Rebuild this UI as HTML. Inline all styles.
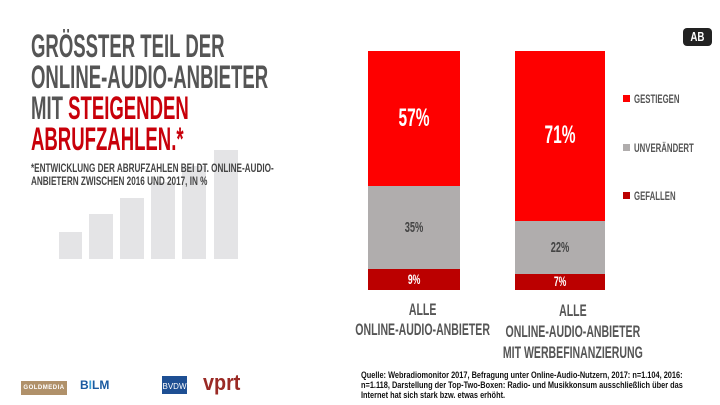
<!DOCTYPE html>
<html><head><meta charset="utf-8"><style>
body{margin:0;width:720px;height:405px;background:#fff;position:relative;overflow:hidden;font-family:"Liberation Sans",sans-serif}
.t{position:absolute;white-space:nowrap;font-weight:bold;transform-origin:0 0;color:#555}
.c{position:absolute;white-space:nowrap;font-weight:bold;color:#555;text-align:center}
.c span{display:inline-block;transform:scaleX(0.62)}
.b{position:absolute}
</style></head><body>
<div class="b" style="left:59px;top:232px;width:23px;height:27px;background:#e4e4e6"></div>
<div class="b" style="left:89px;top:214px;width:24px;height:45px;background:#e4e4e6"></div>
<div class="b" style="left:120px;top:198px;width:24px;height:61px;background:#e4e4e6"></div>
<div class="b" style="left:151px;top:182px;width:24px;height:77px;background:#e4e4e6"></div>
<div class="b" style="left:182px;top:166px;width:24px;height:93px;background:#e4e4e6"></div>
<div class="b" style="left:214px;top:150px;width:24px;height:109px;background:#e4e4e6"></div>

<div class="t" style="left:31px;top:30px;font-size:32px;line-height:32px;transform:scaleX(0.58)">GRÖSSTER TEIL DER</div>
<div class="t" style="left:31px;top:61px;font-size:32px;line-height:32px;transform:scaleX(0.58)">ONLINE-AUDIO-ANBIETER</div>
<div class="t" style="left:31px;top:92px;font-size:32px;line-height:32px;transform:scaleX(0.58)">MIT <span style="color:#c8000a">STEIGENDEN</span></div>
<div class="t" style="left:31px;top:123px;font-size:32px;line-height:32px;transform:scaleX(0.58);color:#c8000a">ABRUFZAHLEN.*</div>
<div class="t" style="left:31px;top:162px;font-size:12px;line-height:13px;transform:scaleX(0.68);color:#444">*ENTWICKLUNG DER ABRUFZAHLEN BEI DT. ONLINE-AUDIO-<br>ANBIETERN ZWISCHEN 2016 UND 2017, IN %</div>

<div class="b" style="left:683px;top:28px;width:29px;height:18px;background:#222;border-radius:4px;color:#fff;font-weight:bold;font-size:13px;line-height:18px;text-align:center"><span style="display:inline-block;transform:scaleX(0.75)">AB</span></div>

<div class="b" style="left:368px;top:51px;width:92px;height:135px;background:#fe0000"></div>
<div class="b" style="left:368px;top:186px;width:92px;height:83px;background:#b0adad"></div>
<div class="b" style="left:368px;top:269px;width:92px;height:21px;background:#bb0000"></div>
<div class="b" style="left:515px;top:51px;width:90px;height:170px;background:#fe0000"></div>
<div class="b" style="left:515px;top:221px;width:90px;height:53px;background:#b0adad"></div>
<div class="b" style="left:515px;top:274px;width:90px;height:16px;background:#bb0000"></div>

<div class="c" style="left:368px;width:92px;top:104px;font-size:25px;color:#fff"><span>57%</span></div>
<div class="c" style="left:368px;width:92px;top:219px;font-size:15px;color:#444"><span>35%</span></div>
<div class="c" style="left:368px;width:92px;top:271px;font-size:14px;color:#fff"><span>9%</span></div>
<div class="c" style="left:515px;width:90px;top:121px;font-size:25px;color:#fff"><span>71%</span></div>
<div class="c" style="left:515px;width:90px;top:239px;font-size:15px;color:#444"><span>22%</span></div>
<div class="c" style="left:515px;width:90px;top:273px;font-size:14px;color:#fff"><span>7%</span></div>

<div class="b" style="left:623px;top:95px;width:7px;height:7px;background:#fe0000"></div>
<div class="b" style="left:623px;top:144px;width:7px;height:7px;background:#b0adad"></div>
<div class="b" style="left:623px;top:192px;width:7px;height:7px;background:#bb0000"></div>
<div class="t" style="left:634px;top:92px;font-size:12px;transform:scaleX(0.65)">GESTIEGEN</div>
<div class="t" style="left:634px;top:141px;font-size:12px;transform:scaleX(0.65)">UNVERÄNDERT</div>
<div class="t" style="left:634px;top:189px;font-size:12px;transform:scaleX(0.65)">GEFALLEN</div>

<div class="c" style="left:314px;width:200px;top:300px;font-size:17px;line-height:20px;color:#555"><span>ALLE<br>ONLINE-AUDIO-ANBIETER</span></div>
<div class="c" style="left:460px;width:200px;top:300px;font-size:17px;line-height:21px;color:#555"><span>ALLE<br>ONLINE-AUDIO-ANBIETER<br>MIT WERBEFINANZIERUNG</span></div>

<div class="t" style="left:361px;top:370px;font-size:9px;line-height:10px;color:#111;transform:scaleX(0.82)">Quelle: Webradiomonitor 2017, Befragung unter Online-Audio-Nutzern, 2017: n=1.104, 2016:<br>n=1.118, Darstellung der Top-Two-Boxen: Radio- und Musikkonsum ausschließlich über das<br>Internet hat sich stark bzw. etwas erhöht.</div>

<div class="b" style="left:21px;top:381px;width:46px;height:14px;background:#b0916a;color:#fff;font-size:6px;line-height:14px;font-weight:bold;letter-spacing:0.5px;text-align:center;overflow:hidden">GOLDMEDIA</div>
<div class="t" style="left:80px;top:378px;font-size:12px;color:#1a5aa0">B<span style="color:#3aa0d8">I</span>LM</div>
<div class="b" style="left:162px;top:376px;width:25px;height:18px;background:#1e4f93;color:#fff;font-size:8px;line-height:22px;text-align:center;overflow:hidden">BVDW</div>
<div class="t" style="left:203px;top:372px;font-size:22px;line-height:22px;color:#9a2a25;transform:scaleX(0.9)">vprt</div>
</body></html>
